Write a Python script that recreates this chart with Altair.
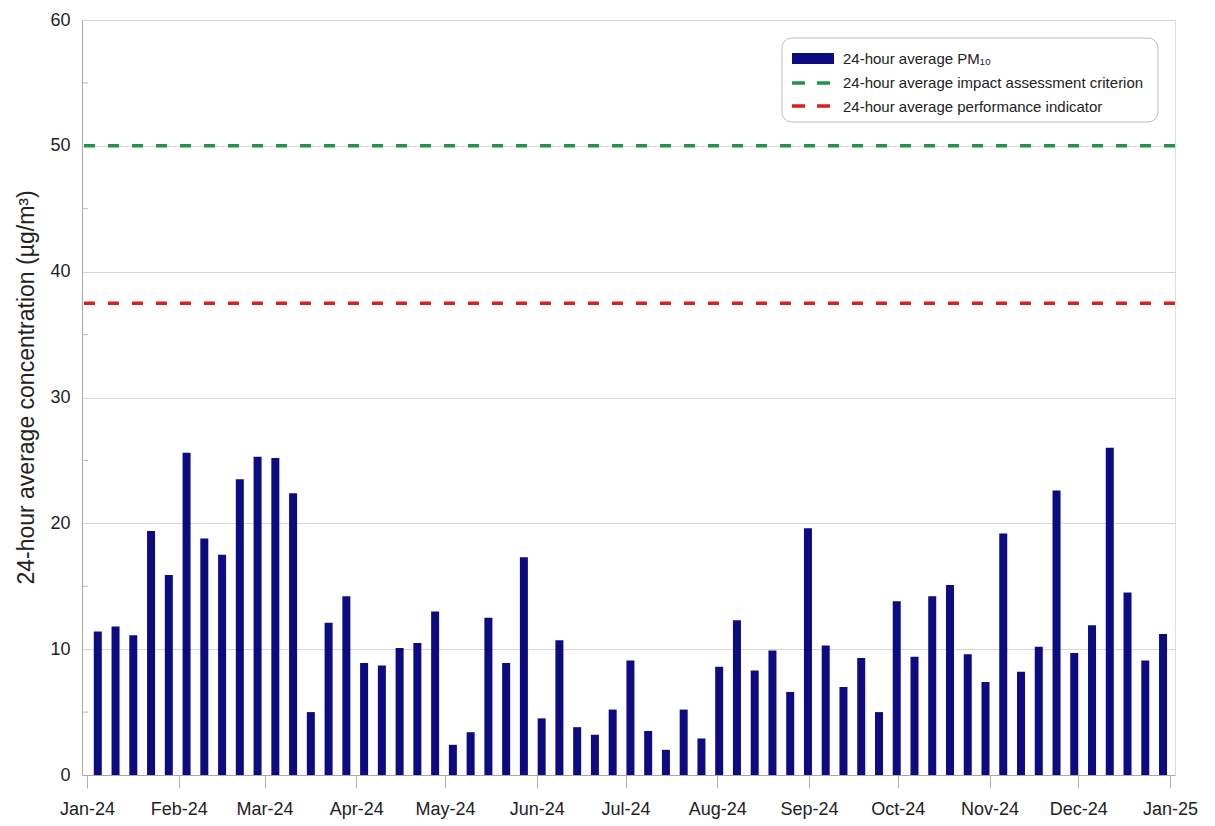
import altair as alt
import pandas as pd

# ---- data ----
DATES = [
    "2024-01-06", "2024-01-12", "2024-01-18", "2024-01-24", "2024-01-30",
    "2024-02-05", "2024-02-11", "2024-02-17", "2024-02-23", "2024-02-29",
    "2024-03-06", "2024-03-12", "2024-03-18", "2024-03-24", "2024-03-30",
    "2024-04-05", "2024-04-11", "2024-04-17", "2024-04-23", "2024-04-29",
    "2024-05-05", "2024-05-11", "2024-05-17", "2024-05-23", "2024-05-29",
    "2024-06-04", "2024-06-10", "2024-06-16", "2024-06-22", "2024-06-28",
    "2024-07-04", "2024-07-10", "2024-07-16", "2024-07-22", "2024-07-28",
    "2024-08-03", "2024-08-09", "2024-08-15", "2024-08-21", "2024-08-27",
    "2024-09-02", "2024-09-08", "2024-09-14", "2024-09-20", "2024-09-26",
    "2024-10-02", "2024-10-08", "2024-10-14", "2024-10-20", "2024-10-26",
    "2024-11-01", "2024-11-07", "2024-11-13", "2024-11-19", "2024-11-25",
    "2024-12-01", "2024-12-07", "2024-12-13", "2024-12-19", "2024-12-25",
    "2024-12-31",
]
PM10 = [
    11.4, 11.8, 11.1, 19.4, 15.9,
    25.6, 18.8, 17.5, 23.5, 25.3,
    25.2, 22.4, 5.0, 12.1, 14.2,
    8.9, 8.7, 10.1, 10.5, 13.0,
    2.4, 3.4, 12.5, 8.9, 17.3,
    4.5, 10.7, 3.8, 3.2, 5.2,
    9.1, 3.5, 2.0, 5.2, 2.9,
    8.6, 12.3, 8.3, 9.9, 6.6,
    19.6, 10.3, 7.0, 9.3, 5.0,
    13.8, 9.4, 14.2, 15.1, 9.6,
    7.4, 19.2, 8.2, 10.2, 22.6,
    9.7, 11.9, 26.0, 14.5, 9.1,
    11.2,
]
CRITERION = [50]
PERFORMANCE = [37.5]
Y_TICKS = [0, 10, 20, 30, 40, 50, 60]
Y_MINOR = [5, 15, 25, 35, 45, 55]
MONTH_TICKS = [(2024, m) for m in range(1, 13)] + [(2025, 1)]
Y_TITLE = "24-hour average concentration (µg/m³)"
LEGEND_LABELS = [
    "24-hour average PM₁₀",
    "24-hour average impact assessment criterion",
    "24-hour average performance indicator",
]

BAR_COLOR = "#0c0c80"
GREEN = "#23924a"
RED = "#d8201e"
FONT = "Liberation Sans"
TEXT = "#222222"

df = pd.DataFrame({"date": DATES, "pm10": PM10})
one = pd.DataFrame({"k": [0]})

tick_dates = [alt.DateTime(year=y, month=m, date=1, utc=True) for y, m in MONTH_TICKS]
x_scale = alt.Scale(
    type="utc",
    domain=[alt.DateTime(year=2024, month=1, date=1, utc=True),
            alt.DateTime(year=2025, month=1, date=1, utc=True)],
)
y_scale = alt.Scale(domain=[0, 60], nice=False)

bars = alt.Chart(df).mark_bar(size=8, color=BAR_COLOR, xOffset=-4).encode(
    x=alt.X(
        "date:T",
        scale=x_scale,
        axis=alt.Axis(
            values=tick_dates, labelExpr="utcFormat(datum.value, '%b-%y')",
            title=None, grid=False, tickSize=13, tickColor="#b0b0b0",
            labelPadding=12, labelFlush=False, labelOverlap=False,
            labelFontSize=18, labelFont=FONT, labelColor=TEXT,
            domainColor="#a8a8a8",
        ),
    ),
    y=alt.Y(
        "pm10:Q",
        scale=y_scale,
        axis=alt.Axis(
            values=Y_TICKS, title=Y_TITLE, ticks=False, labelPadding=12,
            labelFontSize=18, labelFont=FONT, labelColor=TEXT,
            grid=True, gridColor="#d6d6d6", domainColor="#a8a8a8",
            titleFont=FONT, titleFontSize=23, titleFontWeight="normal",
            titleColor=TEXT, titleAngle=-90, titleAlign="center",
            titleBaseline="alphabetic", titleX=-49, titleY=367,
        ),
    ),
)

minor = alt.Chart(pd.DataFrame({"v": Y_MINOR})).mark_rule(
    color="#b8b8b8", strokeWidth=1
).encode(y=alt.Y("v:Q", scale=y_scale), x=alt.value(0), x2=alt.value(6))

crit = alt.Chart(pd.DataFrame({"v": CRITERION})).mark_rule(
    color=GREEN, strokeWidth=3.5, strokeDash=[11, 13]
).encode(y=alt.Y("v:Q", scale=y_scale))

perf = alt.Chart(pd.DataFrame({"v": PERFORMANCE})).mark_rule(
    color=RED, strokeWidth=3.5, strokeDash=[11, 13]
).encode(y=alt.Y("v:Q", scale=y_scale))

# ---- legend ----
leg_box = alt.Chart(one).mark_rect(
    fill="white", stroke="#bcbcbc", strokeWidth=1, cornerRadius=10
).encode(x=alt.value(700), x2=alt.value(1076), y=alt.value(18), y2=alt.value(102))

leg_bar = alt.Chart(one).mark_rect(color=BAR_COLOR).encode(
    x=alt.value(710), x2=alt.value(752), y=alt.value(33), y2=alt.value(44)
)
leg_green = alt.Chart(one).mark_rule(
    color=GREEN, strokeWidth=3.5, strokeDash=[13, 12]
).encode(x=alt.value(710), x2=alt.value(750), y=alt.value(63))
leg_red = alt.Chart(one).mark_rule(
    color=RED, strokeWidth=3.5, strokeDash=[13, 12]
).encode(x=alt.value(710), x2=alt.value(750), y=alt.value(86))

leg_texts = []
for label, yy in zip(LEGEND_LABELS, [39, 63, 87]):
    leg_texts.append(
        alt.Chart(one).mark_text(
            align="left", baseline="middle", fontSize=15, font=FONT, color=TEXT
        ).encode(x=alt.value(761), y=alt.value(yy), text=alt.value(label))
    )

chart = alt.layer(
    bars, minor, crit, perf, leg_box, leg_bar, leg_green, leg_red, *leg_texts
).properties(
    width=1093,
    height=755,
    autosize=alt.AutoSizeParams(type="none"),
    padding={"left": 74, "top": 12, "right": 30, "bottom": 46},
).configure_view(
    stroke="#c8c8c8", strokeWidth=1
).configure(background="white")

chart.save("out.html", embed_options={"renderer": "svg", "actions": False})
